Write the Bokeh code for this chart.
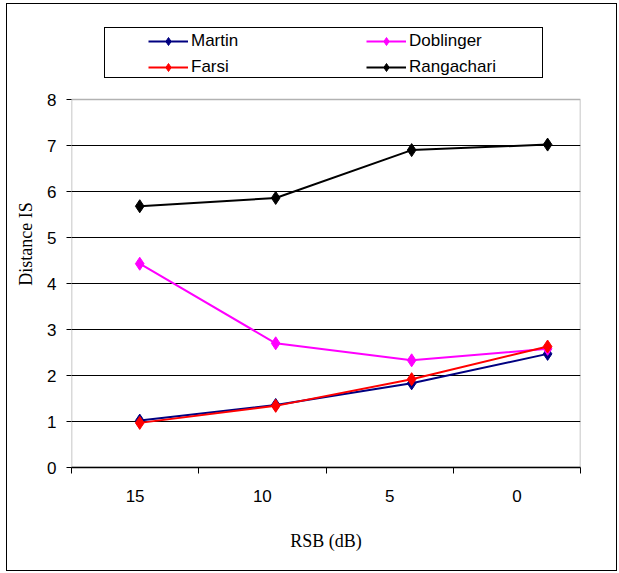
from bokeh.plotting import figure
from bokeh.models import (Range1d, FixedTicker, LinearAxis, Legend, LegendItem,
                          InlineStyleSheet, BoxAnnotation)
from bokeh.embed import file_html
from bokeh.resources import INLINE

# ---- data ----
rsb = [15, 10, 5, 0]
tick_labels = ["15", "10", "5", "0"]
y_ticks = [0, 1, 2, 3, 4, 5, 6, 7, 8]
martin = [1.02, 1.36, 1.83, 2.47]
farsi = [0.97, 1.34, 1.92, 2.63]
doblinger = [4.43, 2.70, 2.33, 2.58]
rangachari = [5.68, 5.86, 6.90, 7.02]

series = [
    ("Martin", martin, "#000080"),
    ("Doblinger", doblinger, "#FF00FF"),
    ("Farsi", farsi, "#FF0000"),
    ("Rangachari", rangachari, "#000000"),
]

W, H = 619, 573
FL, FR, FT, FB = 71, 580, 99, 467   # plot-area edges on the canvas
TOP = 20                            # canvas frame top (legend lives inside the frame)
y_lo, y_hi = y_ticks[0], y_ticks[-1]
y_end = y_hi * (FB - TOP) / (FB - FT)

p = figure(width=W, height=H, output_backend="svg", toolbar_location=None,
           x_range=Range1d(0, len(tick_labels)), y_range=Range1d(y_lo, y_end),
           min_border_left=FL, min_border_right=W - FR, min_border_top=TOP,
           min_border_bottom=H - FB, x_axis_type=None)
p.extra_x_ranges = {"rsb": Range1d(17.51, -1.21)}

# outer frame and legend frame (decorative boxes)
p.stylesheets = [InlineStyleSheet(css="""
:host::before { content: ""; position: absolute; left: 6px; top: 3px;
  width: 611px; height: 568px; box-sizing: border-box; z-index: 5;
  border: 1.5px solid black; pointer-events: none; }
:host::after { content: ""; position: absolute; left: 104px; top: 27px;
  width: 439px; height: 51px; box-sizing: border-box; z-index: 5;
  border: 1.5px solid black; pointer-events: none; }
""")]

# x axis: labels centred in category slots, tick marks on slot boundaries
slot_ticks = [i + 0.5 for i in range(len(tick_labels))]
xaxis = LinearAxis(ticker=FixedTicker(ticks=slot_ticks,
                                      minor_ticks=list(range(len(tick_labels) + 1))))
xaxis.major_label_overrides = {t: lab for t, lab in zip(slot_ticks, tick_labels)}
xaxis.major_tick_line_color = None
xaxis.minor_tick_out = 6
xaxis.minor_tick_in = 0
xaxis.minor_tick_line_color = "black"
xaxis.axis_line_color = "black"
xaxis.axis_line_width = 1.5
xaxis.axis_label = "RSB (dB)"
p.add_layout(xaxis, "below")

p.yaxis.ticker = FixedTicker(ticks=y_ticks)
p.yaxis.major_tick_out = 5
p.yaxis.major_tick_in = 0
p.yaxis.minor_tick_line_color = None
p.yaxis.axis_label = "Distance IS"
p.yaxis.axis_line_color = None

for ax in [xaxis, p.yaxis[0]]:
    ax.major_label_text_font = "Liberation Sans"
    ax.major_label_text_font_size = "17px"
    ax.major_label_text_color = "black"
    ax.axis_label_text_font = "Liberation Serif"
    ax.axis_label_text_font_size = "18px"
    ax.axis_label_text_font_style = "normal"
    ax.axis_label_text_color = "black"
xaxis.major_label_standoff = 16
xaxis.axis_label_standoff = 26
p.yaxis.major_label_standoff = 10
p.yaxis.axis_label_standoff = 8

p.xgrid.visible = False
p.ygrid.ticker = FixedTicker(ticks=y_ticks[1:-1])
p.ygrid.grid_line_color = "black"
p.ygrid.grid_line_width = 1
p.outline_line_color = None

# plot-area border (0..8 on y, whole x range)
p.add_layout(BoxAnnotation(left=p.x_range.start, right=p.x_range.end,
                           bottom=y_lo, top=y_hi, fill_alpha=0,
                           line_color="black", line_width=1.5))

renderers = {}
for name, vals, col in series:
    l = p.line(rsb, vals, x_range_name="rsb", line_color=col, line_width=2)
    s = p.scatter(rsb, vals, x_range_name="rsb", marker="diamond", size=13,
                  fill_color=col, line_color=col)
    renderers[name] = [l, s]

legend_order = ["Martin", "Farsi", "Doblinger", "Rangachari"]
legend = Legend(items=[LegendItem(label=n, renderers=renderers[n]) for n in legend_order],
                location=(148 - FL, FB - 77), orientation="vertical", nrows=2,
                glyph_width=40, glyph_height=20, label_height=20, label_width=169,
                label_standoff=3, spacing=6, padding=0, margin=0,
                border_line_color=None, background_fill_alpha=0,
                label_text_font="Liberation Sans", label_text_font_size="17px",
                label_text_color="black")
p.add_layout(legend, "center")

open("out.html", "w").write(file_html(p, INLINE))
